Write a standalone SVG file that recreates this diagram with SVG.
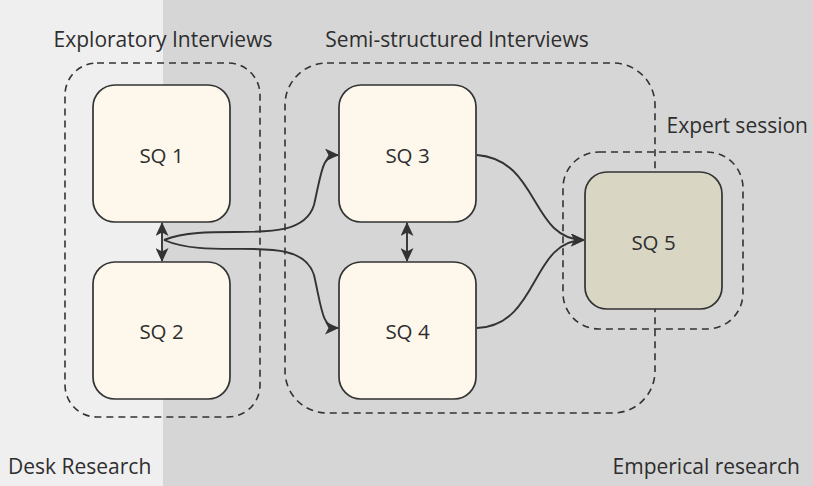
<svg xmlns="http://www.w3.org/2000/svg" width="813" height="486" viewBox="0 0 813 486">
  <defs>
    <style>
      .lbl { font-family: "Open Sans", "Noto Sans", "DejaVu Sans", sans-serif; font-size: 21px; fill: #2e2e2e; }
      .node-lbl { font-family: "Open Sans", "Noto Sans", "DejaVu Sans", sans-serif; font-size: 20.5px; fill: #2e2e2e; text-anchor: middle; dominant-baseline: central; }
      .node { fill: #fdf7ec; stroke: #333333; stroke-width: 1.7; }
      .node-alt { fill: #d9d6c4; stroke: #333333; stroke-width: 1.7; }
      .group { fill: none; stroke: #333333; stroke-width: 1.6; stroke-dasharray: 7 5; }
      .edge { fill: none; stroke: #333333; stroke-width: 1.9; }
    </style>
    <marker id="arrow" viewBox="0 0 14 13" refX="13" refY="6.5" markerWidth="14" markerHeight="13" markerUnits="userSpaceOnUse" orient="auto-start-reverse">
      <path d="M0,0 L14,6.5 L0,13 L3.5,6.5 Z" fill="#333333"/>
    </marker>
  </defs>

  <!-- background areas -->
  <g id="areas">
    <rect x="0" y="0" width="813" height="486" fill="#d6d6d6"/>
    <rect x="0" y="0" width="163" height="486" fill="#efeff0"/>
    <text class="lbl" x="8" y="474">Desk Research</text>
    <text class="lbl" x="800" y="474" text-anchor="end">Emperical research</text>
  </g>

  <!-- dashed groupings -->
  <g id="group-exploratory">
    <rect class="group" x="65" y="63" width="195" height="354" rx="32"/>
    <text class="lbl" x="163" y="47" text-anchor="middle">Exploratory Interviews</text>
  </g>
  <g id="group-semi">
    <rect class="group" x="285" y="63" width="370" height="350" rx="42"/>
    <text class="lbl" x="457" y="47" text-anchor="middle">Semi-structured Interviews</text>
  </g>
  <g id="group-expert">
    <rect class="group" x="563" y="152" width="180" height="177" rx="36"/>
    <text class="lbl" x="808" y="133" text-anchor="end">Expert session</text>
  </g>

  <!-- connectors -->
  <g id="connectors">
    <line class="edge" x1="162" y1="223" x2="162" y2="261" marker-start="url(#arrow)" marker-end="url(#arrow)"/>
    <line class="edge" x1="407" y1="223" x2="407" y2="261" marker-start="url(#arrow)" marker-end="url(#arrow)"/>
    <path class="edge" d="M164,240 C215,220 300,250 314,205 C322,170 322,155 338,155" marker-end="url(#arrow)"/>
    <path class="edge" d="M164,240 C215,262 300,230 314,275 C322,310 322,328 338,328" marker-end="url(#arrow)"/>
    <path class="edge" d="M477,155 C540,160 530,240 584,240" marker-end="url(#arrow)"/>
    <path class="edge" d="M477,328 C540,325 530,240 584,240" marker-end="url(#arrow)"/>
  </g>

  <!-- nodes -->
  <g id="sq1">
    <rect class="node" x="93" y="85" width="137" height="137" rx="22"/>
    <text class="node-lbl" x="161.5" y="155">SQ 1</text>
  </g>
  <g id="sq2">
    <rect class="node" x="93" y="262" width="137" height="137" rx="22"/>
    <text class="node-lbl" x="161.5" y="331">SQ 2</text>
  </g>
  <g id="sq3">
    <rect class="node" x="339" y="85" width="137" height="137" rx="22"/>
    <text class="node-lbl" x="407.5" y="155">SQ 3</text>
  </g>
  <g id="sq4">
    <rect class="node" x="339" y="262" width="137" height="137" rx="22"/>
    <text class="node-lbl" x="407.5" y="331">SQ 4</text>
  </g>
  <g id="sq5">
    <rect class="node-alt" x="585" y="172" width="137" height="137" rx="22"/>
    <text class="node-lbl" x="653.5" y="242">SQ 5</text>
  </g>
</svg>
